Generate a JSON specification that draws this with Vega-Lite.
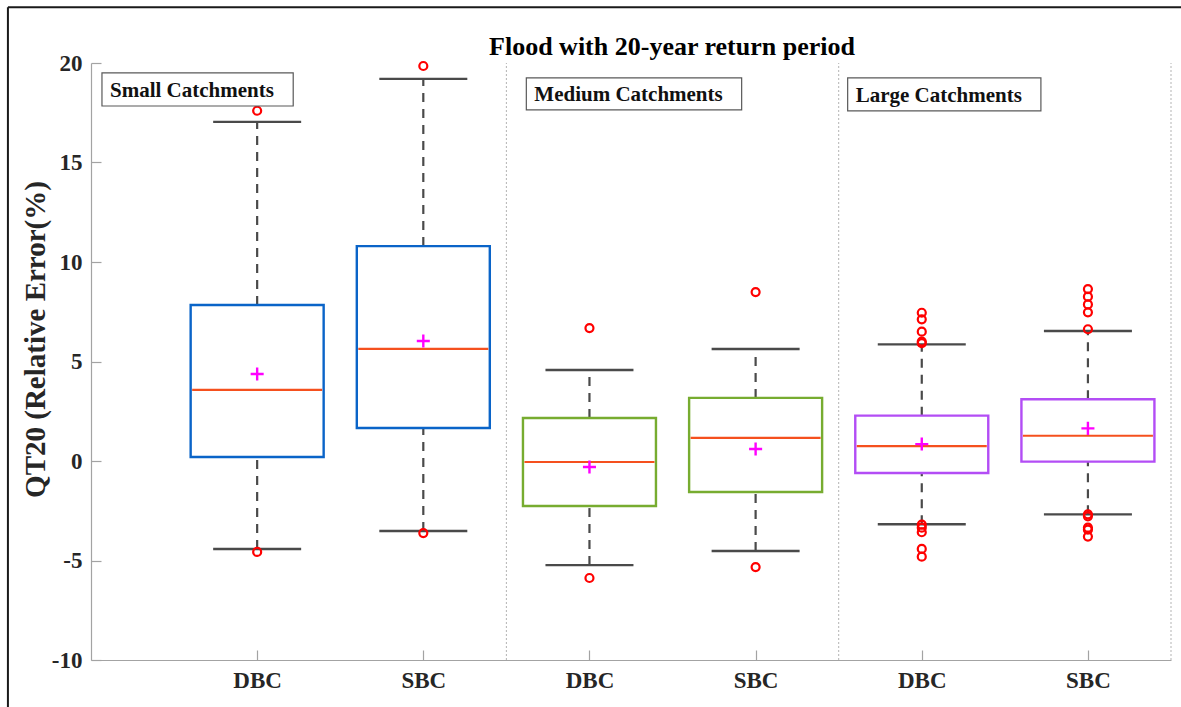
{
  "$schema": "https://vega.github.io/schema/vega-lite/v6.json",
  "width": 1080,
  "height": 597,
  "autosize": "none",
  "padding": {"left": 91, "top": 63, "right": 10, "bottom": 47},
  "background": "white",
  "title": {
    "text": "Flood with 20-year return period",
    "font": "Liberation Serif",
    "fontSize": 26,
    "fontWeight": "bold",
    "color": "#000000",
    "anchor": "middle",
    "frame": "group",
    "dx": 41,
    "offset": -75,
    "baseline": "alphabetic"
  },
  "config": {
    "view": {"stroke": null},
    "font": "Liberation Serif",
    "axis": {
      "grid": false,
      "domainColor": "#a3a3a3",
      "domainWidth": 1.2,
      "tickColor": "#a3a3a3",
      "tickWidth": 1.2,
      "tickSize": -10,
      "labelFont": "Liberation Serif",
      "labelFontWeight": "bold",
      "labelFontSize": 23,
      "labelColor": "#262626",
      "titleFont": "Liberation Serif",
      "titleFontWeight": "bold",
      "titleColor": "#262626"
    }
  },
  "datasets": {
    "boxes": [
      {"group": "Small", "method": "DBC", "slot": 1, "lo": -4.42, "q1": 0.2, "median": 3.57, "mean": 4.37, "q3": 7.84, "hi": 17.04},
      {"group": "Small", "method": "SBC", "slot": 2, "lo": -3.52, "q1": 1.66, "median": 5.63, "mean": 6.03, "q3": 10.8, "hi": 19.2},
      {"group": "Medium", "method": "DBC", "slot": 3, "lo": -5.23, "q1": -2.26, "median": -0.05, "mean": -0.3, "q3": 2.16, "hi": 4.57},
      {"group": "Medium", "method": "SBC", "slot": 4, "lo": -4.52, "q1": -1.56, "median": 1.16, "mean": 0.6, "q3": 3.17, "hi": 5.63},
      {"group": "Large", "method": "DBC", "slot": 5, "lo": -3.18, "q1": -0.6, "median": 0.75, "mean": 0.85, "q3": 2.28, "hi": 5.86},
      {"group": "Large", "method": "SBC", "slot": 6, "lo": -2.68, "q1": -0.03, "median": 1.27, "mean": 1.64, "q3": 3.1, "hi": 6.53}
    ],
    "outliers": [
      {"slot": 1, "value": 17.6}, {"slot": 1, "value": -4.57},
      {"slot": 2, "value": 19.85}, {"slot": 2, "value": -3.62},
      {"slot": 3, "value": 6.68}, {"slot": 3, "value": -5.88},
      {"slot": 4, "value": 8.49}, {"slot": 4, "value": -5.33},
      {"slot": 5, "value": 7.45}, {"slot": 5, "value": 7.12}, {"slot": 5, "value": 6.5}, {"slot": 5, "value": 6.0}, {"slot": 5, "value": 5.92},
      {"slot": 5, "value": -3.2}, {"slot": 5, "value": -3.35}, {"slot": 5, "value": -3.58}, {"slot": 5, "value": -4.42}, {"slot": 5, "value": -4.81},
      {"slot": 6, "value": 8.64}, {"slot": 6, "value": 8.26}, {"slot": 6, "value": 7.87}, {"slot": 6, "value": 7.47}, {"slot": 6, "value": 6.62},
      {"slot": 6, "value": -2.68}, {"slot": 6, "value": -2.78}, {"slot": 6, "value": -3.35}, {"slot": 6, "value": -3.45}, {"slot": 6, "value": -3.8}
    ],
    "separators": [{"at": 2.5}, {"at": 4.5}, {"at": 6.5}],
    "labels": [
      {"label": "Small Catchments", "x0": 0.066, "x1": 1.217, "top": 19.5, "bottom": 17.84},
      {"label": "Medium Catchments", "x0": 2.62, "x1": 3.916, "top": 19.25, "bottom": 17.64},
      {"label": "Large Catchments", "x0": 4.554, "x1": 5.717, "top": 19.25, "bottom": 17.59}
    ]
  },
  "layer": [
    {
      "data": {"name": "separators"},
      "mark": {"type": "rule", "stroke": "#b3b3b3", "strokeWidth": 1, "strokeDash": [2, 2]},
      "encoding": {
        "x": {"field": "at", "type": "quantitative", "scale": {"domain": [0, 6.5], "nice": false, "zero": false, "padding": 0}},
        "y": {"datum": -10, "type": "quantitative", "scale": {"domain": [-10, 20], "nice": false, "zero": false, "padding": 0}},
        "y2": {"datum": 20}
      }
    },
    {
      "data": {"name": "boxes"},
      "mark": {"type": "rule", "stroke": "#4a4a4a", "strokeWidth": 2.2, "strokeDash": [9, 7]},
      "encoding": {
        "x": {"field": "slot", "type": "quantitative"},
        "y": {"field": "lo", "type": "quantitative"},
        "y2": {"field": "q1"}
      }
    },
    {
      "data": {"name": "boxes"},
      "mark": {"type": "rule", "stroke": "#4a4a4a", "strokeWidth": 2.2, "strokeDash": [9, 7]},
      "encoding": {
        "x": {"field": "slot", "type": "quantitative"},
        "y": {"field": "q3", "type": "quantitative"},
        "y2": {"field": "hi"}
      }
    },
    {
      "data": {"name": "boxes"},
      "mark": {"type": "tick", "orient": "horizontal", "size": 88, "thickness": 2.4, "color": "#4a4a4a", "opacity": 1},
      "encoding": {
        "x": {"field": "slot", "type": "quantitative"},
        "y": {"field": "lo", "type": "quantitative"}
      }
    },
    {
      "data": {"name": "boxes"},
      "mark": {"type": "tick", "orient": "horizontal", "size": 88, "thickness": 2.4, "color": "#4a4a4a", "opacity": 1},
      "encoding": {
        "x": {"field": "slot", "type": "quantitative"},
        "y": {"field": "hi", "type": "quantitative"}
      }
    },
    {
      "data": {"name": "boxes"},
      "mark": {"type": "bar", "size": 133, "fill": "white", "fillOpacity": 1, "strokeWidth": 2.4},
      "encoding": {
        "x": {
          "field": "slot",
          "type": "quantitative",
          "scale": {"domain": [0, 6.5], "nice": false, "zero": false, "padding": 0},
          "axis": {
            "values": [1, 2, 3, 4, 5, 6],
            "labelExpr": "datum.value % 2 == 1 ? 'DBC' : 'SBC'",
            "labelPadding": 37,
            "labelBaseline": "alphabetic",
            "title": null
          }
        },
        "y": {
          "field": "q1",
          "type": "quantitative",
          "scale": {"domain": [-10, 20], "nice": false, "zero": false, "padding": 0},
          "axis": {
            "values": [-10, -5, 0, 5, 10, 15, 20],
            "labelExpr": "replace(datum.label, '\u2212', '-')",
            "labelPadding": 19,
            "title": "QT20 (Relative Error(%)",
            "titleFontSize": 29,
            "titleAngle": -90,
            "titleAlign": "center",
            "titleBaseline": "alphabetic",
            "titleX": -47,
            "titleY": 276
          }
        },
        "y2": {"field": "q3"},
        "stroke": {
          "field": "group",
          "type": "nominal",
          "scale": {"domain": ["Small", "Medium", "Large"], "range": ["#0a64c8", "#77ac30", "#b34df5"]},
          "legend": null
        }
      }
    },
    {
      "data": {"name": "boxes"},
      "mark": {"type": "tick", "orient": "horizontal", "size": 130, "thickness": 2.2, "color": "#f5501e", "opacity": 1},
      "encoding": {
        "x": {"field": "slot", "type": "quantitative"},
        "y": {"field": "median", "type": "quantitative"}
      }
    },
    {
      "data": {"name": "boxes"},
      "mark": {"type": "point", "shape": "M-1,0L1,0M0,-1L0,1", "filled": false, "stroke": "#ff00ff", "strokeWidth": 2.4, "size": 170, "opacity": 1},
      "encoding": {
        "x": {"field": "slot", "type": "quantitative"},
        "y": {"field": "mean", "type": "quantitative"}
      }
    },
    {
      "data": {"name": "outliers"},
      "mark": {"type": "point", "shape": "circle", "filled": false, "stroke": "#ff0000", "strokeWidth": 2.2, "size": 64, "opacity": 1},
      "encoding": {
        "x": {"field": "slot", "type": "quantitative"},
        "y": {"field": "value", "type": "quantitative"}
      }
    },
    {
      "data": {"name": "labels"},
      "mark": {"type": "rect", "fill": "white", "stroke": "#595959", "strokeWidth": 1.2},
      "encoding": {
        "x": {"field": "x0", "type": "quantitative"},
        "x2": {"field": "x1"},
        "y": {"field": "top", "type": "quantitative"},
        "y2": {"field": "bottom"}
      }
    },
    {
      "data": {"name": "labels"},
      "mark": {"type": "text", "align": "left", "baseline": "alphabetic", "dx": 8, "dy": -9, "font": "Liberation Serif", "fontWeight": "bold", "fontSize": 21, "color": "#111111"},
      "encoding": {
        "x": {"field": "x0", "type": "quantitative"},
        "y": {"field": "bottom", "type": "quantitative"},
        "text": {"field": "label"}
      }
    },
    {
      "data": {"values": [{}]},
      "mark": {"type": "rule", "stroke": "#1a1a1a", "strokeWidth": 2},
      "encoding": {
        "x": {"datum": -0.5, "type": "quantitative"},
        "x2": {"datum": 6.58},
        "y": {"datum": 22.8, "type": "quantitative"}
      }
    },
    {
      "data": {"values": [{}]},
      "mark": {"type": "rule", "stroke": "#1a1a1a", "strokeWidth": 2},
      "encoding": {
        "x": {"datum": -0.5, "type": "quantitative"},
        "y": {"datum": 22.8, "type": "quantitative"},
        "y2": {"datum": -13}
      }
    }
  ]
}
